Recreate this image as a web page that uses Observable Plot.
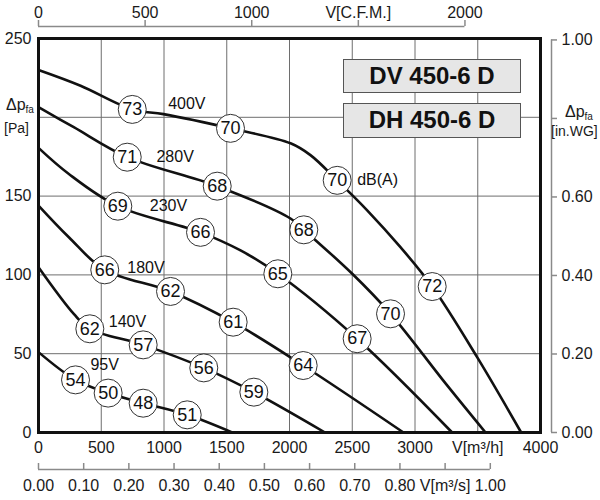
<!DOCTYPE html>
<html><head><meta charset="utf-8">
<script src="https://cdn.jsdelivr.net/npm/d3@7"></script>
<script src="https://cdn.jsdelivr.net/npm/@observablehq/plot@0.6"></script>
<style>
body{margin:0;background:#fff;}
#chart{position:relative;width:600px;height:500px;font-family:"Liberation Sans",Arial,sans-serif;color:#1a1a1a;}
#chart svg{position:absolute;left:0;top:0;}
.model{position:absolute;left:343px;width:178px;height:34px;box-sizing:border-box;border:1.5px solid #555;background:#e6e6e6;font-weight:bold;font-size:24px;line-height:31px;text-align:center;color:#111;}
.ylab{position:absolute;font-size:16px;line-height:16px;white-space:nowrap;}
.ylab .sub{font-size:10px;line-height:10px;position:relative;top:3px;}
.unit{position:absolute;font-size:14px;line-height:14px;white-space:nowrap;}
</style></head>
<body><div id="chart"></div>
<script>
// ---- tick values ----
const m3hTicks = [0, 500, 1000, 1500, 2000, 2500, 3000, 3500, 4000];
const paTicks = [0, 50, 100, 150, 200, 250];
const cfmTicks = [0, 500, 1000, 1500, 2000];
const m3sTicks = [0, 0.1, 0.2, 0.3, 0.4, 0.5, 0.6, 0.7, 0.8, 0.9, 1.0];
const inwgTicks = [0, 0.2, 0.4, 0.6, 0.8, 1.0];

// unit conversions
const M3H_PER_CFM = 1.69901;
const M3H_PER_M3S = 3600;
const PA_PER_INWG = 249.09;

// ---- fan curves (V m3/h, dp Pa) ----
const voltages = ["400V", "280V", "230V", "180V", "140V", "95V"];
const flow400 = [0, 335, 747, 996, 1530, 2008, 2167, 2380, 2619, 2884, 3137, 3495, 3846];
const pres400 = [230, 220, 205, 202, 193, 183.5, 176, 160, 141, 117.6, 92.6, 47.8, 0];
const flow280 = [0, 281, 707, 1424, 2008, 2114, 2500, 2805, 3245, 3562];
const pres280 = [206.4, 193.7, 174.7, 156.3, 135.8, 128.6, 100.7, 75.3, 31, 0];
const flow230 = [0, 242, 632, 1291, 1610, 1907, 2539, 3296];
const pres230 = [180.6, 164, 143.6, 127, 115.5, 100.7, 59.5, 0];
const flow180 = [0, 242, 528, 1052, 1551, 2109, 2908];
const pres180 = [144, 123.9, 103.2, 89.5, 70, 42.5, 0];
const flow140 = [0, 281, 409, 834, 1317, 1716, 2283];
const pres140 = [104.9, 75.3, 65.8, 55.6, 41, 25.6, 0];
const flow95 = [0, 295, 555, 834, 1185, 1543];
const pres95 = [51, 33.4, 25, 18.6, 11.2, 0];

// ---- sound level markers dB(A) ----
const dbValue = [73, 70, 70, 72, 71, 68, 68, 70, 69, 66, 65, 67, 66, 62, 61, 64, 62, 57, 56, 59, 54, 50, 48, 51];
const dbFlow = [747, 1530, 2380, 3137, 707, 1424, 2114, 2805, 632, 1291, 1907, 2539, 528, 1052, 1551, 2109, 409, 834, 1317, 1716, 295, 555, 834, 1185];
const dbPres = [205, 193, 160, 92.6, 174.7, 156.3, 128.6, 75.3, 143.6, 127, 100.7, 59.5, 103.2, 89.5, 70, 42.5, 65.8, 55.6, 41, 25.6, 33.4, 25, 18.6, 11.2];

// ---- voltage label anchors ----
const labelFlow = [1033, 940, 887, 707, 560, 414];
const labelPres = [208.5, 174.7, 143.6, 104.5, 70, 43];
const unitLabel = "dB(A)";
const unitFlow = 2539;
const unitPres = 160;

const models = ["DV 450-6 D", "DH 450-6 D"];

// build tables
const flows = [flow400, flow280, flow230, flow180, flow140, flow95];
const press = [pres400, pres280, pres230, pres180, pres140, pres95];
const curveRows = voltages.flatMap((s, i) => flows[i].map((v, j) => ({s, v, p: press[i][j]})));
const dbRows = dbValue.map((d, i) => ({d, v: dbFlow[i], p: dbPres[i]}));
const voltRows = voltages.map((s, i) => ({s, v: labelFlow[i], p: labelPres[i]}));

const W = 600, H = 500, ML = 38, MR = 60, MT = 38, MB = 68;
const baseStyle = "font-family:'Liberation Sans',Arial,sans-serif;font-size:16px;background:transparent;overflow:visible;color:#1a1a1a;";
const axisGray = "#8a8a8a";

const main = Plot.plot({
  width: W, height: H, marginLeft: ML, marginRight: MR, marginTop: MT, marginBottom: MB,
  style: baseStyle,
  x: {domain: [0, 4000]},
  y: {domain: [0, 250]},
  marks: [
    Plot.ruleX(m3hTicks, {stroke: "#6e6e6e", strokeWidth: 1}),
    Plot.ruleY(paTicks, {stroke: "#6e6e6e", strokeWidth: 1}),
    Plot.line(curveRows, {x: "v", y: "p", z: "s", curve: "catmull-rom", stroke: "#111", strokeWidth: 2.6}),
    Plot.dot(dbRows, {x: "v", y: "p", r: 14, fill: "white", stroke: "#333", strokeWidth: 1}),
    Plot.text(dbRows, {x: "v", y: "p", text: "d", fontSize: 18, fill: "#111"}),
    Plot.text(voltRows, {x: "v", y: "p", text: "s", textAnchor: "start", fontSize: 16, fill: "#111"}),
    Plot.text([unitLabel], {x: () => unitFlow, y: () => unitPres, text: d => d, textAnchor: "start", fontSize: 16, fill: "#111"}),
    Plot.frame({stroke: "#111", strokeWidth: 3}),
    Plot.axisX(m3hTicks, {anchor: "bottom", tickSize: 0, tickPadding: 9, label: null, fontSize: 16, color: "#1a1a1a",
      tickFormat: d => d === 3500 ? "V[m³/h]" : String(d)}),
    Plot.axisY(paTicks, {anchor: "left", tickSize: 0, tickPadding: 7, label: null, fontSize: 16, color: "#1a1a1a",
      tickFormat: d => d === 200 ? "" : String(d)})
  ]
});

const topAxis = Plot.plot({
  width: W, height: 40, marginLeft: ML, marginRight: MR, marginTop: 20, marginBottom: 14,
  style: baseStyle,
  x: {domain: [0, 4000 / M3H_PER_CFM]},
  y: {domain: [0, 1], axis: null},
  marks: [
    Plot.ruleY([0], {x1: 0, x2: cfmTicks[cfmTicks.length - 1], stroke: axisGray, strokeWidth: 1.5}),
    Plot.tickX(cfmTicks, {x: d => d, stroke: axisGray, strokeWidth: 1.5}),
    Plot.axisX(cfmTicks, {anchor: "top", tickSize: 0, tickPadding: 3, label: null, fontSize: 16, color: "#1a1a1a",
      tickFormat: d => d === 1500 ? "V[C.F.M.]" : String(d)})
  ]
});

const bottomAxis = Plot.plot({
  width: W, height: H, marginLeft: ML, marginRight: MR, marginTop: 463, marginBottom: 31,
  style: baseStyle,
  x: {domain: [0, 4000 / M3H_PER_M3S]},
  y: {domain: [0, 1], axis: null},
  marks: [
    Plot.ruleY([0], {x1: 0, x2: m3sTicks[m3sTicks.length - 1], stroke: axisGray, strokeWidth: 1.5}),
    Plot.tickX(m3sTicks, {x: d => d, stroke: axisGray, strokeWidth: 1.5}),
    Plot.axisX(m3sTicks, {anchor: "bottom", tickSize: 0, tickPadding: 10, label: null, fontSize: 16, color: "#1a1a1a",
      tickFormat: d => d === 0.9 ? "V[m³/s]" : d.toFixed(2)})
  ]
});

const rightAxis = Plot.plot({
  width: W, height: H, marginLeft: 551, marginRight: 43, marginTop: MT, marginBottom: MB,
  style: baseStyle,
  x: {domain: [0, 1], axis: null},
  y: {domain: [0, 250 / PA_PER_INWG]},
  marks: [
    Plot.ruleX([0], {y1: 0, y2: inwgTicks[inwgTicks.length - 1], stroke: axisGray, strokeWidth: 1.5}),
    Plot.tickY(inwgTicks, {y: d => d, stroke: axisGray, strokeWidth: 1.5}),
    Plot.axisY(inwgTicks, {anchor: "right", tickSize: 0, tickPadding: 4, label: null, fontSize: 16, color: "#1a1a1a",
      tickFormat: d => d === 0.8 ? "" : d.toFixed(2)})
  ]
});

const chart = document.getElementById("chart");
chart.append(main, topAxis, bottomAxis, rightAxis);

function addDiv(cls, html, left, top) {
  const el = document.createElement("div");
  el.className = cls;
  el.innerHTML = html;
  el.style.left = left + "px";
  el.style.top = top + "px";
  chart.append(el);
  return el;
}
addDiv("model", models[0], 343, 59);
addDiv("model", models[1], 343, 103).style.height = "35px";
addDiv("ylab", "Δp<span class='sub'>fa</span>", 6, 97);
addDiv("unit", "[Pa]", 4, 121);
addDiv("ylab", "Δp<span class='sub'>fa</span>", 565, 104);
addDiv("unit", "[in.WG]", 551, 124);
</script></body></html>
